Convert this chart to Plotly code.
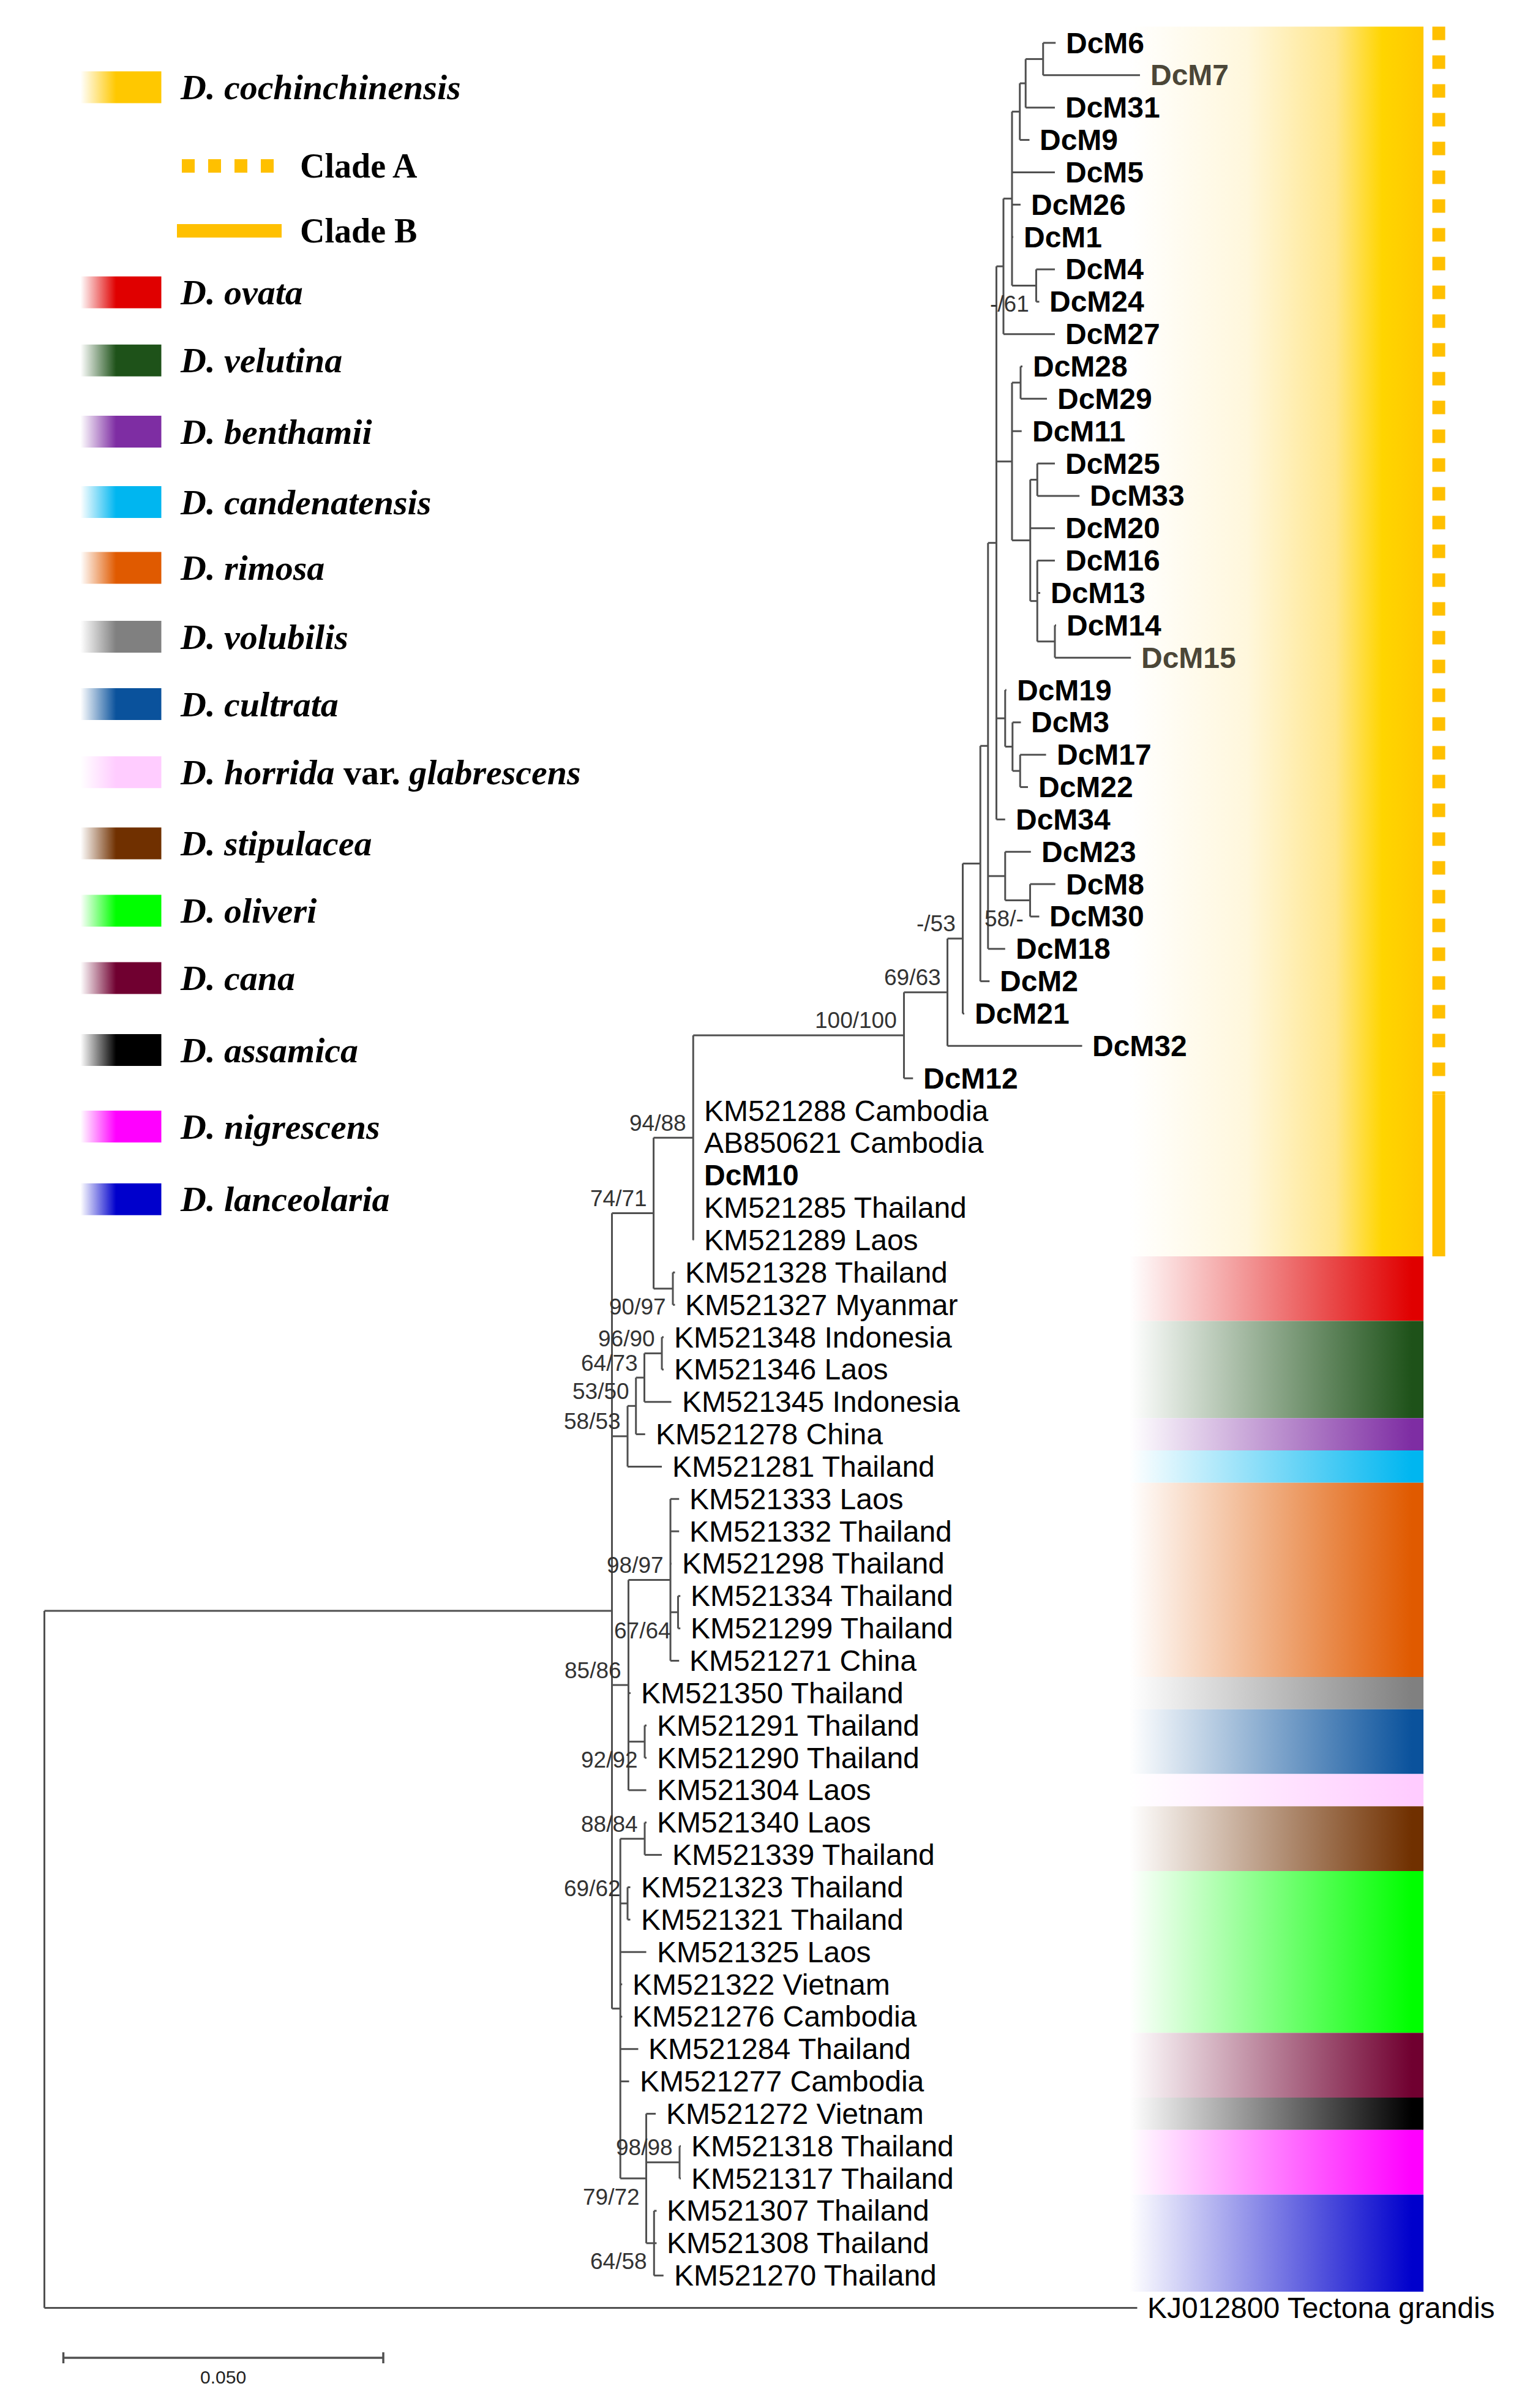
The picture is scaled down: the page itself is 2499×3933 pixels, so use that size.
import plotly.graph_objects as go

# ---------------- tree data (depths in substitutions/site from the root) ----------------
leaf_names = [
    "DcM6", "DcM7", "DcM31", "DcM9", "DcM5", "DcM26", "DcM1", "DcM4", "DcM24", "DcM27",
    "DcM28", "DcM29", "DcM11", "DcM25", "DcM33", "DcM20", "DcM16", "DcM13", "DcM14", "DcM15",
    "DcM19", "DcM3", "DcM17", "DcM22", "DcM34", "DcM23", "DcM8", "DcM30", "DcM18", "DcM2",
    "DcM21", "DcM32", "DcM12",
    "KM521288 Cambodia", "AB850621 Cambodia", "DcM10", "KM521285 Thailand", "KM521289 Laos",
    "KM521328 Thailand", "KM521327 Myanmar",
    "KM521348 Indonesia", "KM521346 Laos", "KM521345 Indonesia", "KM521278 China", "KM521281 Thailand",
    "KM521333 Laos", "KM521332 Thailand", "KM521298 Thailand", "KM521334 Thailand", "KM521299 Thailand",
    "KM521271 China",
    "KM521350 Thailand", "KM521291 Thailand", "KM521290 Thailand", "KM521304 Laos",
    "KM521340 Laos", "KM521339 Thailand", "KM521323 Thailand", "KM521321 Thailand", "KM521325 Laos",
    "KM521322 Vietnam", "KM521276 Cambodia", "KM521284 Thailand", "KM521277 Cambodia",
    "KM521272 Vietnam", "KM521318 Thailand", "KM521317 Thailand", "KM521307 Thailand",
    "KM521308 Thailand", "KM521270 Thailand",
    "KJ012800 Tectona grandis",
]
leaf_depth = [
    0.15806, 0.17124, 0.15794, 0.15397, 0.15794, 0.15258, 0.15144, 0.15794, 0.15550, 0.15794,
    0.15287, 0.15670, 0.15275, 0.15794, 0.16179, 0.15794, 0.15794, 0.15565, 0.15813, 0.16983,
    0.15036, 0.15263, 0.15656, 0.15373, 0.15017, 0.15419, 0.15801, 0.15550, 0.15017, 0.14773,
    0.14378, 0.16220, 0.13577,
    0.10144, 0.10144, 0.10144, 0.10144, 0.10144,
    0.09856, 0.09856,
    0.09679, 0.09679, 0.09799, 0.09390, 0.09651,
    0.09921, 0.09921, 0.09801, 0.09940, 0.09940,
    0.09921,
    0.09163, 0.09412, 0.09412, 0.09407,
    0.09412, 0.09651, 0.09158, 0.09158, 0.09407,
    0.09031, 0.09031, 0.09282, 0.09139,
    0.09555, 0.09947, 0.09947, 0.09569,
    0.09569, 0.09677,
    0.17081,
]
leaf_parent = [
    "n67", "n67", "n67_31", "n9", "A", "A", "A", "n424", "n424", "B",
    "n2829", "n2829", "D", "n2533", "n2533", "V", "W", "W", "n1415", "n1415",
    "Y", "X", "n1722", "n1722", "C", "Z", "n830", "n830", "F", "G",
    "H", "I", "J",
    "K", "K", "K", "K", "K",
    "n2827", "n2827",
    "n4846", "n4846", "N", "O", "P",
    "Q", "Q", "Q", "n3499", "n3499",
    "Q",
    "R", "n9190", "n9190", "R",
    "n4039", "n4039", "n2321", "n2321", "S",
    "S", "S", "S", "S",
    "T", "n1817", "n1817", "U",
    "U", "U",
    "root",
]
faded_leaves = ["DcM7", "DcM15"]

node_names = [
    "root", "M", "L", "K", "J", "I", "H", "G", "F", "C",
    "B", "A", "n9", "n67_31", "n67", "n424",
    "D", "n2829", "V", "n2533", "W", "n1415",
    "Y", "X", "n1722", "Z", "n830",
    "n2827", "P", "O", "N", "n4846",
    "R", "Q", "n3499", "n9190",
    "S", "n4039", "n2321", "T", "n1817", "U",
]
node_depth = [
    0.0, 0.08871, 0.09522, 0.10141, 0.13435, 0.14115, 0.14354, 0.14629, 0.14749, 0.14880,
    0.14990, 0.15124, 0.15246, 0.15337, 0.15610, 0.15502,
    0.15124, 0.15258, 0.15409, 0.15519, 0.15519, 0.15794,
    0.15017, 0.15132, 0.15251, 0.15017, 0.15407,
    0.09823, 0.09115, 0.09246, 0.09378, 0.09651,
    0.09129, 0.09785, 0.09904, 0.09383,
    0.09002, 0.09383, 0.09115, 0.09407, 0.09928, 0.09529,
]
node_parent = [
    None, "root", "M", "L", "K", "J", "I", "H", "G", "F",
    "C", "B", "A", "n9", "n67_31", "A",
    "C", "D", "D", "V", "V", "W",
    "C", "Y", "X", "F", "Z",
    "L", "M", "P", "O", "N",
    "M", "R", "Q", "R",
    "M", "S", "S", "S", "T", "T",
]

# bootstrap support (ML/MP)
support_node = ["J", "I", "H", "K", "L", "n2827", "n4846", "N", "O", "P",
                "Q", "n3499", "R", "n9190", "n4039", "n2321", "n1817", "T", "U", "n830", "n424"]
support_text = ["100/100", "69/63", "-/53", "94/88", "74/71", "90/97", "96/90", "64/73", "53/50", "58/53",
                "98/97", "67/64", "85/86", "92/92", "88/84", "69/62", "98/98", "79/72", "64/58", "58/-", "-/61"]
support_below = [False, False, False, False, False, True, False, False, False, False,
                 False, True, False, True, False, False, False, True, True, True, True]

# species bands
band_species = ["D. cochinchinensis", "D. ovata", "D. velutina", "D. benthamii", "D. candenatensis",
                "D. rimosa", "D. volubilis", "D. cultrata", "D. horrida var. glabrescens", "D. stipulacea",
                "D. oliveri", "D. cana", "D. assamica", "D. nigrescens", "D. lanceolaria"]
band_first = ["DcM6", "KM521328 Thailand", "KM521348 Indonesia", "KM521278 China", "KM521281 Thailand",
              "KM521333 Laos", "KM521350 Thailand", "KM521291 Thailand", "KM521304 Laos", "KM521340 Laos",
              "KM521323 Thailand", "KM521284 Thailand", "KM521272 Vietnam", "KM521318 Thailand",
              "KM521307 Thailand"]
band_last = ["KM521289 Laos", "KM521327 Myanmar", "KM521345 Indonesia", "KM521278 China", "KM521281 Thailand",
             "KM521271 China", "KM521350 Thailand", "KM521290 Thailand", "KM521304 Laos", "KM521339 Thailand",
             "KM521276 Cambodia", "KM521277 Cambodia", "KM521272 Vietnam", "KM521317 Thailand",
             "KM521270 Thailand"]
band_color = ["#FFC800", "#E00000", "#1E5219", "#7E2DA3", "#00B6F0",
              "#E05A00", "#808080", "#0A529C", "#FFCCFF", "#703000",
              "#00FF00", "#700030", "#000000", "#FF00FF", "#0000CC"]

clade_names = ["Clade A", "Clade B"]
clade_first = ["DcM6", "KM521288 Cambodia"]
clade_last = ["DcM12", "KM521289 Laos"]
clade_color = "#FFC000"

scale_bar_len = 0.05

# ---------------- page geometry ----------------
FIG_W, FIG_H, OFF = 2480, 3910, 8          # body margin of the page
ROOT_PX, PX_PER_UNIT = 72.5, 10450.0
LEAF0_PX, LEAF_STEP = 70.0, 52.85


def px_x(p):
    return (p - ROOT_PX) / PX_PER_UNIT


def px_row(p):
    return (p - LEAF0_PX) / LEAF_STEP


row = {n: i for i, n in enumerate(leaf_names)}
depth = dict(zip(leaf_names, leaf_depth))
depth.update(dict(zip(node_names, node_depth)))

children = {n: [] for n in node_names}
for n, p in zip(leaf_names, leaf_parent):
    children[p].append(n)
for n, p in zip(node_names, node_parent):
    if p is not None:
        children[p].append(n)

ypos = dict(row)


def node_y(n):
    if n in ypos:
        return ypos[n]
    ys = [node_y(c) for c in children[n]]
    ypos[n] = (min(ys) + max(ys)) / 2
    return ypos[n]


for n in node_names:
    node_y(n)

fig = go.Figure()

# ---------------- coloured bands ----------------
BAND_X0, BAND_X1 = 1845, 2325
for sp, f, l, c in zip(band_species, band_first, band_last, band_color):
    x0, x1 = px_x(BAND_X0), px_x(BAND_X1)
    y0, y1 = row[f] - 0.5, row[l] + 0.5
    if sp == "D. cochinchinensis":
        cs = [[0, "#FFFFFF"], [0.4, "#FFF7DC"], [0.7, "#FFE68C"], [0.86, "#FFD500"], [1, c]]
    else:
        cs = [[0, "#FFFFFF"], [0.96, c], [1, c]]
    fig.add_trace(go.Scatter(
        x=[x0, x1, x1, x0, x0], y=[y0, y0, y1, y1, y0], mode="lines", line=dict(width=0),
        fill="toself", fillgradient=dict(type="horizontal", colorscale=cs, start=x0, stop=x1),
        hoverinfo="skip"))

# ---------------- branches ----------------
xs, ys = [], []
for n in leaf_names + node_names[1:]:
    p = leaf_parent[row[n]] if n in row else node_parent[node_names.index(n)]
    xs += [depth[p], depth[n], None]
    ys += [ypos[n], ypos[n], None]
for n in node_names:
    cy = [ypos[c] for c in children[n]]
    xs += [depth[n], depth[n], None]
    ys += [min(cy), max(cy), None]
fig.add_trace(go.Scatter(x=xs, y=ys, mode="lines", line=dict(color="#505050", width=3),
                         hoverinfo="skip"))

# leaf labels
for n in leaf_names:
    txt = f"<b>{n}</b>" if n.startswith("DcM") else n
    col = "#4b4637" if n in faded_leaves else "#000000"
    fig.add_annotation(x=depth[n], y=row[n], text=txt, showarrow=False, xanchor="left",
                       yanchor="middle", xshift=15, font=dict(family="Liberation Sans", size=48, color=col))

# support values
for n, t, below in zip(support_node, support_text, support_below):
    fig.add_annotation(x=depth[n], y=ypos[n], text=t, showarrow=False, xanchor="right",
                       yanchor="middle", xshift=-9, yshift=-30 if below else 24,
                       font=dict(family="Liberation Sans", size=37, color="#333333"))

# clade bars
CLADE_X = px_x(2350)
for name, f, l in zip(clade_names, clade_first, clade_last):
    fig.add_shape(type="line", xref="x", yref="y", x0=CLADE_X, x1=CLADE_X,
                  y0=row[f] - 0.5, y1=row[l] + 0.5,
                  line=dict(color=clade_color, width=21, dash="22px,25px" if name == "Clade A" else "solid"))

# scale bar
sb_x0 = px_x(103.5)
sb_y = px_row(3851)
tick = 9 / LEAF_STEP
fig.add_trace(go.Scatter(
    x=[sb_x0, sb_x0 + scale_bar_len, None, sb_x0, sb_x0, None, sb_x0 + scale_bar_len, sb_x0 + scale_bar_len],
    y=[sb_y, sb_y, None, sb_y - tick, sb_y + tick, None, sb_y - tick, sb_y + tick],
    mode="lines", line=dict(color="#505050", width=3.5), hoverinfo="skip"))
fig.add_annotation(x=sb_x0 + scale_bar_len / 2, y=px_row(3882), text=f"{scale_bar_len:.3f}",
                   showarrow=False, font=dict(family="Liberation Sans", size=30, color="#222222"))

# ---------------- legend (page-pixel axes) ----------------
legend_row_y = [57, 191, 235.5, 282, 328, 371, 416, 460, 504.5, 551, 595, 639, 686, 736, 783.5]
SW_X0, SW_X1, SW_H = 131.5, 263.5, 52
for sp, c, yd in zip(band_species, band_color, legend_row_y):
    yc = yd * 2.5
    fig.add_trace(go.Scatter(
        x=[SW_X0, SW_X1, SW_X1, SW_X0, SW_X0],
        y=[yc - SW_H / 2, yc - SW_H / 2, yc + SW_H / 2, yc + SW_H / 2, yc - SW_H / 2],
        xaxis="x2", yaxis="y2", mode="lines", line=dict(width=0), fill="toself",
        fillgradient=dict(type="horizontal", colorscale=[[0, "#FFFFFF"], [0.44, c], [1, c]],
                          start=SW_X0, stop=SW_X1),
        hoverinfo="skip"))
    label = "<b><i>" + sp.replace(" var. ", "</i> var. <i>") + "</i></b>"
    fig.add_annotation(x=292, y=yc, xref="x2", yref="y2", text=label, showarrow=False,
                       xanchor="left", yanchor="middle",
                       font=dict(family="Liberation Serif", size=58, color="#000000"))

clade_legend_y = [271, 377]
for name, yc in zip(clade_names, clade_legend_y):
    if name == "Clade A":
        fig.add_shape(type="line", xref="x2", yref="y2", x0=297, x1=449, y0=yc, y1=yc,
                      line=dict(color=clade_color, width=22, dash="21px,22px"))
    else:
        fig.add_shape(type="line", xref="x2", yref="y2", x0=289, x1=460, y0=yc, y1=yc,
                      line=dict(color=clade_color, width=22))
    fig.add_annotation(x=488, y=yc, xref="x2", yref="y2", text=f"<b>{name}</b>", showarrow=False,
                       xanchor="left", yanchor="middle",
                       font=dict(family="Liberation Serif", size=56, color="#000000"))

fig.update_layout(
    width=FIG_W, height=FIG_H, margin=dict(l=0, r=0, t=0, b=0),
    paper_bgcolor="white", plot_bgcolor="white", showlegend=False,
    xaxis=dict(range=[px_x(OFF), px_x(OFF + FIG_W)], visible=False),
    yaxis=dict(range=[px_row(OFF + FIG_H), px_row(OFF)], visible=False),
    xaxis2=dict(range=[OFF, OFF + FIG_W], overlaying="x", anchor="y2", visible=False),
    yaxis2=dict(range=[OFF + FIG_H, OFF], overlaying="y", anchor="x2", visible=False),
)

fig.write_html("out.html")
